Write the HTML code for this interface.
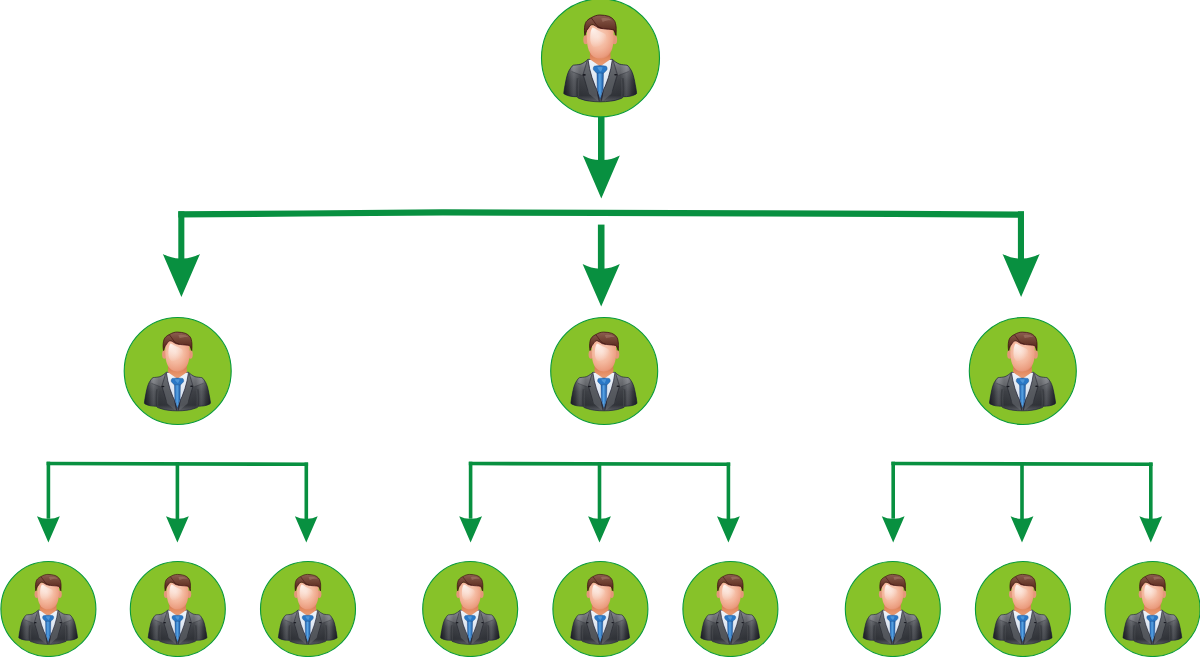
<!DOCTYPE html>
<html><head><meta charset="utf-8"><title>Org chart</title>
<style>html,body{margin:0;padding:0;background:#fff;overflow:hidden;width:1200px;height:657px}svg{display:block}</style>
</head><body>
<svg width="1200" height="657" viewBox="0 0 1200 657">

<defs>
 <linearGradient id="gSuit" x1="0" y1="0" x2="0" y2="1">
  <stop offset="0" stop-color="#8c8f95"/>
  <stop offset="0.2" stop-color="#66696f"/>
  <stop offset="0.5" stop-color="#45484e"/>
  <stop offset="0.85" stop-color="#35383e"/>
  <stop offset="1" stop-color="#5f6268"/>
 </linearGradient>
 <linearGradient id="gSuitH" x1="0" y1="0" x2="1" y2="0">
  <stop offset="0" stop-color="#000" stop-opacity="0.5"/>
  <stop offset="0.07" stop-color="#000" stop-opacity="0.15"/>
  <stop offset="0.14" stop-color="#fff" stop-opacity="0.10"/>
  <stop offset="0.22" stop-color="#000" stop-opacity="0.12"/>
  <stop offset="0.5" stop-color="#000" stop-opacity="0"/>
  <stop offset="0.78" stop-color="#000" stop-opacity="0.12"/>
  <stop offset="0.86" stop-color="#fff" stop-opacity="0.10"/>
  <stop offset="0.93" stop-color="#000" stop-opacity="0.15"/>
  <stop offset="1" stop-color="#000" stop-opacity="0.5"/>
 </linearGradient>
 <radialGradient id="gFace" cx="0.42" cy="0.35" r="0.72">
  <stop offset="0" stop-color="#f9d2c0"/>
  <stop offset="0.5" stop-color="#f4b89e"/>
  <stop offset="0.85" stop-color="#eb9c7e"/>
  <stop offset="1" stop-color="#dc8564"/>
 </radialGradient>
 <radialGradient id="gShine" cx="0.15" cy="0.1" r="0.95">
  <stop offset="0" stop-color="#fff" stop-opacity="1"/>
  <stop offset="0.3" stop-color="#fff" stop-opacity="0.7"/>
  <stop offset="0.75" stop-color="#fff" stop-opacity="0.3"/>
  <stop offset="1" stop-color="#fff" stop-opacity="0.05"/>
 </radialGradient>
 <linearGradient id="gHair" x1="0" y1="0" x2="0" y2="1">
  <stop offset="0" stop-color="#8c5e50"/>
  <stop offset="0.5" stop-color="#6e3e30"/>
  <stop offset="1" stop-color="#4c1c14"/>
 </linearGradient>
 <linearGradient id="gNeck" x1="0" y1="0" x2="0" y2="1">
  <stop offset="0" stop-color="#c96e4a"/>
  <stop offset="0.55" stop-color="#e48c62"/>
  <stop offset="1" stop-color="#e9a07a"/>
 </linearGradient>
 <linearGradient id="gTie" x1="0" y1="0" x2="1" y2="0">
  <stop offset="0" stop-color="#1d5fae"/>
  <stop offset="0.45" stop-color="#57a3e4"/>
  <stop offset="1" stop-color="#1a56a0"/>
 </linearGradient>
 <linearGradient id="gShirt" x1="0" y1="0" x2="0" y2="1">
  <stop offset="0" stop-color="#eef4fb"/>
  <stop offset="1" stop-color="#d0dae8"/>
 </linearGradient>
  <path id="suitP" d="M -12.2 1.5 C -14.2 3.2 -16.5 5.2 -19.3 6.2 C -22 7 -25 7 -26.8 7.3 C -28 7.8 -28.8 8.8 -29.4 10 C -30.6 11.5 -31.5 13.2 -32.1 14.8 C -32.8 16.5 -33.3 18.3 -33.7 20.1 C -34.3 22.5 -34.7 24.5 -35 26.5 C -35.5 29 -35.9 31 -36.1 32.9 C -36.3 34 -36.4 35 -36.4 35.5 C -36.1 36 -35.7 36.3 -35.2 36.5 C -33.5 37.4 -31.5 38 -29.8 38.3 C -27.6 38.7 -25 38.8 -23.2 38.8 L -22.3 39.9 C -21.5 40.4 -20.6 40.8 -19.7 41 C -16.5 42.2 -13.5 42.9 -10.6 43.2 C -7 43.7 -3.5 43.9 0 43.9 C 3.5 43.9 7 43.7 10.6 43.2 C 13.5 42.9 16.5 42.2 19.7 41 C 20.6 40.8 21.5 40.4 22.3 39.9 L 23.2 38.8 C 25 38.8 27.6 38.7 29.8 38.3 C 31.5 38 33.5 37.4 35.2 36.5 C 35.7 36.3 36.1 36 36.4 35.5 C 36.4 35 36.3 34 36.1 32.9 C 35.9 31 35.5 29 35 26.5 C 34.7 24.5 34.3 22.5 33.7 20.1 C 33.3 18.3 32.8 16.5 32.1 14.8 C 31.5 13.2 30.6 11.5 29.4 10 C 28.8 8.8 28 7.8 26.8 7.3 C 25 7 22 7 19.3 6.2 C 16.5 5.2 14.2 3.2 12.2 1.5 Z"/>
<g id="person">
  <!-- suit body -->
  <use href="#suitP" fill="url(#gSuit)"/>
  <use href="#suitP" fill="url(#gSuitH)"/>
  <!-- shoulder highlights -->
  <path d="M-12.5 2.5 L-19.3 6.4 C-22 7.2 -25 7.2 -26.8 7.6 C-28 8 -29 9 -29.6 10.3 L-28.5 13.6 L-18.5 17.4 L-16.3 16.8 Z" fill="#fff" opacity="0.12"/>
  <path d="M12.5 2.5 L19.3 6.4 C22 7.2 25 7.2 26.8 7.6 C28 8 29 9 29.6 10.3 L28.5 13.6 L18.5 17.4 L16.3 16.8 Z" fill="#fff" opacity="0.12"/>
  <path d="M-28.5 13.6 L-18.5 17.4" stroke="#2a2c33" stroke-width="0.8" opacity="0.5"/>
  <path d="M28.5 13.6 L18.5 17.4" stroke="#2a2c33" stroke-width="0.8" opacity="0.5"/>
  <!-- sleeve fold bands -->
  <path d="M-23.5 20 C-24.2 27 -24.3 33 -23.6 38.6 L-21.8 38.4 C-22.2 33 -22 27 -21.5 20.5 Z" fill="#1f2127" opacity="0.35"/>
  <path d="M23.5 20 C24.2 27 24.3 33 23.6 38.6 L21.8 38.4 C22.2 33 22 27 21.5 20.5 Z" fill="#1f2127" opacity="0.35"/>
  <path d="M-21.5 21 C-22 27 -22.1 33 -21.7 38.2" stroke="#a0a3a8" stroke-width="0.7" fill="none" opacity="0.18"/>
  <path d="M21.5 21 C22 27 22.1 33 21.7 38.2" stroke="#a0a3a8" stroke-width="0.7" fill="none" opacity="0.18"/>
  <!-- lapel dark outer gaps -->
  <path d="M-13 3 L-17.2 17 L-12 33" stroke="#2a2c34" stroke-width="1.2" fill="none" opacity="0.6"/>
  <path d="M13 3 L17.2 17 L12 33" stroke="#2a2c34" stroke-width="1.2" fill="none" opacity="0.6"/>
  <!-- lapels lighter band -->
  <path d="M-12.2 1.5 L-16.3 17 L-11 36 L-2 43.6 L-3.2 32 L-5.1 28.2 L-8.2 19.7 L-10.6 10.8 Z" fill="#6a6d73" opacity="0.55"/>
  <path d="M12.2 1.5 L16.3 17 L11 36 L2 43.6 L3.2 32 L5.1 28.2 L8.2 19.7 L10.6 10.8 Z" fill="#6a6d73" opacity="0.55"/>
  <!-- shirt -->
  <path d="M-12.2 1.3 C-6 2.5 6 2.5 12.2 1.3 L10.6 10.8 L8.2 19.7 L5.1 28.2 L3.2 32 L0 40 L-3.2 32 L-5.1 28.2 L-8.2 19.7 L-10.6 10.8 Z" fill="url(#gShirt)"/>
  <!-- lapel inner dark edges -->
  <path d="M-12.2 1.6 L-10.6 10.8 L-8.2 19.7 L-5.1 28.2 L-3.2 32 L-0.8 43.5" stroke="#1d1e30" stroke-width="0.75" fill="none"/>
  <path d="M12.2 1.6 L10.6 10.8 L8.2 19.7 L5.1 28.2 L3.2 32 L0.8 43.5" stroke="#1d1e30" stroke-width="0.75" fill="none"/>
  <!-- lapel notches -->
  <ellipse cx="-16" cy="17" rx="1.7" ry="0.8" fill="#17181f"/>
  <ellipse cx="15.6" cy="16.8" rx="1.7" ry="0.8" fill="#17181f"/>
  <!-- suit outline -->
  <use href="#suitP" fill="none" stroke="#17183a" stroke-width="0.7"/>
  <!-- neck -->
  <path d="M-10.2 -8 L10.2 -8 L10.4 1.4 C7 3.8 3.5 6.2 0 8.6 C-3.5 6.2 -7 3.8 -10.4 1.4 Z" fill="url(#gNeck)"/>
  <!-- tie -->
  <path d="M-3.3 14.5 L3.3 14.5 L2.9 31 L0 40.9 L-2.9 31 Z" fill="url(#gTie)" stroke="#15457e" stroke-width="0.4"/>
  <path d="M-6 8.3 C-2.5 7.5 2.5 7.5 6 8.3 C6.9 9.2 7.1 10.6 6.8 11.6 C6 13 4.5 14.5 3.3 15.2 L-3.3 15.2 C-4.5 14.5 -6 13 -6.8 11.6 C-7.1 10.6 -6.9 9.2 -6 8.3 Z" fill="#2a78c6" stroke="#15457e" stroke-width="0.4"/>
  <path d="M-3 9.5 C-1 9 1 9 2.5 9.5 C2 11 1.5 12.5 0.5 13.5 C-1 12.5 -2.2 11 -3 9.5 Z" fill="#6fb4ec" opacity="0.5"/>
  <!-- ears -->
  <ellipse cx="-14.3" cy="-18.2" rx="2.6" ry="4.6" fill="#e4967a"/>
  <ellipse cx="14.3" cy="-18.2" rx="2.6" ry="4.6" fill="#e4967a"/>
  <!-- face -->
  <path d="M-13.3 -33 C-13.6 -25 -13.5 -18 -12.8 -13 C-12.2 -9 -11 -6.5 -9 -3.5 C-6.5 -0.5 -3 0.7 0 0.7 C3 0.7 6.5 -0.5 9 -3.5 C11 -6.5 12.2 -9 12.8 -13 C13.5 -18 13.6 -25 13.3 -33 Z" fill="url(#gFace)"/>
  <path d="M-7.8 -30.4 C-9.5 -28 -10 -24 -10 -19.9 C-10 -16 -9.2 -13 -6.5 -10.9 C-3 -10.5 2 -12.5 5.5 -15.9 C7 -18 7.2 -21 5 -23.9 C2.5 -25.5 -0.5 -26.4 -3 -28 C-5 -29.2 -6.5 -30.5 -7.8 -30.4 Z" fill="url(#gShine)" opacity="0.8"/>
  <!-- hair -->
  <path d="M-15.3 -22.5 C-15.9 -25.5 -16 -29.5 -15.3 -32.8 C-14.8 -35 -14 -36.5 -13.2 -37.2 C-12 -38.5 -10.5 -39.5 -9 -40.1
     C-6 -42 -3 -42.9 -0.3 -42.9 C3 -42.9 6 -42.3 8.5 -41.6 C10.5 -40.8 12 -39.8 13.2 -38.5 C14.5 -37 15.2 -35.5 15.3 -34.4
     C15.9 -32 16.1 -29.5 16 -28.2 C16 -26 15.9 -24 15.8 -22.5 C15 -24.5 14.3 -26.5 13.5 -28 C11.5 -28.5 10 -28.6 8.3 -28.7
     C6.5 -28.8 4.5 -29 3.1 -29.2 C0.5 -29.5 -1 -30 -2 -30.2 C-3.5 -31 -4.5 -32 -5.3 -32.3 C-6.3 -33 -7.3 -33.3 -8.3 -33.3
     C-9.5 -33 -10.5 -32 -11 -31 C-12 -29.5 -13 -28 -13.5 -27.5 C-14.3 -25.5 -14.9 -24 -15.3 -22.5 Z"
     fill="url(#gHair)" stroke="#3a0c10" stroke-width="0.8"/>
  <path d="M-9 -40.1 C-7 -38 -5.5 -35 -3.5 -32.5 C-2 -31 0 -30 2 -29.4" stroke="#3e1210" stroke-width="0.9" fill="none" opacity="0.75"/>
  <path d="M1 -39.5 C5 -40.5 9 -40 12 -37.5 C8.5 -37.8 5 -37.2 2.5 -36 Z" fill="#b08474" opacity="0.45"/>
</g>
</defs>
<rect x="598" y="112" width="6.5" height="50" fill="#089040"/>
<path d="M582.80 155.50 Q592.97 160.68 601.30 160.00 Q609.62 160.68 619.80 155.50 L601.30 198.50Z" fill="#089040"/>
<path d="M178.3 211.3 L303 210.4 L443 209.3 L600 209.8 L753 210.2 L893 210.85 L1024.0 211.5 L1024.0 217.70 L893 217.05 L753 216.40 L600 216.00 L443 215.50 L303 216.60 L178.3 217.50Z" fill="#089040"/>
<rect x="178.3" y="211.3" width="6.05" height="50" fill="#089040"/>
<path d="M162.80 253.90 Q173.03 259.07 181.40 258.40 Q189.77 259.07 200.00 253.90 L181.40 296.90Z" fill="#089040"/>
<rect x="1017.9" y="211.3" width="6.1" height="50" fill="#089040"/>
<path d="M1002.50 253.90 Q1012.73 259.07 1021.10 258.40 Q1029.47 259.07 1039.70 253.90 L1021.10 296.90Z" fill="#089040"/>
<rect x="597.9" y="224.6" width="6.6" height="45" fill="#089040"/>
<path d="M582.60 264.10 Q592.83 269.28 601.20 268.60 Q609.57 269.28 619.80 264.10 L601.20 306.60Z" fill="#089040"/>
<path d="M46.60 461.7 L308.10 462.5 L308.10 466.1 L46.60 465.3Z" fill="#089040"/>
<rect x="46.60" y="461.70" width="3.6" height="57" fill="#089040"/>
<path d="M37.00 516.20 Q43.27 519.19 48.40 518.80 Q53.53 519.19 59.80 516.20 L48.40 542.40Z" fill="#089040"/>
<rect x="175.60" y="462.10" width="3.6" height="57" fill="#089040"/>
<path d="M166.00 516.20 Q172.27 519.19 177.40 518.80 Q182.53 519.19 188.80 516.20 L177.40 542.40Z" fill="#089040"/>
<rect x="304.50" y="462.50" width="3.6" height="57" fill="#089040"/>
<path d="M294.90 516.20 Q301.17 519.19 306.30 518.80 Q311.43 519.19 317.70 516.20 L306.30 542.40Z" fill="#089040"/>
<path d="M468.80 461.7 L730.20 462.5 L730.20 466.1 L468.80 465.3Z" fill="#089040"/>
<rect x="468.80" y="461.70" width="3.6" height="57" fill="#089040"/>
<path d="M459.20 516.20 Q465.47 519.19 470.60 518.80 Q475.73 519.19 482.00 516.20 L470.60 542.40Z" fill="#089040"/>
<rect x="597.70" y="462.10" width="3.6" height="57" fill="#089040"/>
<path d="M588.10 516.20 Q594.37 519.19 599.50 518.80 Q604.63 519.19 610.90 516.20 L599.50 542.40Z" fill="#089040"/>
<rect x="726.60" y="462.50" width="3.6" height="57" fill="#089040"/>
<path d="M717.00 516.20 Q723.27 519.19 728.40 518.80 Q733.53 519.19 739.80 516.20 L728.40 542.40Z" fill="#089040"/>
<path d="M891.40 461.7 L1152.60 462.5 L1152.60 466.1 L891.40 465.3Z" fill="#089040"/>
<rect x="891.40" y="461.70" width="3.6" height="57" fill="#089040"/>
<path d="M881.80 516.20 Q888.07 519.19 893.20 518.80 Q898.33 519.19 904.60 516.20 L893.20 542.40Z" fill="#089040"/>
<rect x="1020.20" y="462.10" width="3.6" height="57" fill="#089040"/>
<path d="M1010.60 516.20 Q1016.87 519.19 1022.00 518.80 Q1027.13 519.19 1033.40 516.20 L1022.00 542.40Z" fill="#089040"/>
<rect x="1149.00" y="462.50" width="3.6" height="57" fill="#089040"/>
<path d="M1139.40 516.20 Q1145.67 519.19 1150.80 518.80 Q1155.93 519.19 1162.20 516.20 L1150.80 542.40Z" fill="#089040"/>
<circle cx="600.5" cy="57.9" r="59.0" fill="#87c229" stroke="#079a3c" stroke-width="1.1"/>
<use href="#person" transform="translate(600.20 57.90) scale(1.0000)"/>
<circle cx="177.7" cy="371" r="53.5" fill="#87c229" stroke="#079a3c" stroke-width="1.1"/>
<use href="#person" transform="translate(177.43 371.00) scale(0.9076)"/>
<circle cx="604.2" cy="371" r="53.5" fill="#87c229" stroke="#079a3c" stroke-width="1.1"/>
<use href="#person" transform="translate(603.93 371.00) scale(0.9076)"/>
<circle cx="1022.8" cy="371" r="53.5" fill="#87c229" stroke="#079a3c" stroke-width="1.1"/>
<use href="#person" transform="translate(1022.53 371.00) scale(0.9076)"/>
<circle cx="48.4" cy="609" r="47.5" fill="#87c229" stroke="#079a3c" stroke-width="1.1"/>
<use href="#person" transform="translate(48.16 609.00) scale(0.8067)"/>
<circle cx="177.8" cy="609" r="47.5" fill="#87c229" stroke="#079a3c" stroke-width="1.1"/>
<use href="#person" transform="translate(177.56 609.00) scale(0.8067)"/>
<circle cx="308" cy="609" r="47.5" fill="#87c229" stroke="#079a3c" stroke-width="1.1"/>
<use href="#person" transform="translate(307.76 609.00) scale(0.8067)"/>
<circle cx="470.2" cy="609" r="47.5" fill="#87c229" stroke="#079a3c" stroke-width="1.1"/>
<use href="#person" transform="translate(469.96 609.00) scale(0.8067)"/>
<circle cx="600.4" cy="609" r="47.5" fill="#87c229" stroke="#079a3c" stroke-width="1.1"/>
<use href="#person" transform="translate(600.16 609.00) scale(0.8067)"/>
<circle cx="730.4" cy="609" r="47.5" fill="#87c229" stroke="#079a3c" stroke-width="1.1"/>
<use href="#person" transform="translate(730.16 609.00) scale(0.8067)"/>
<circle cx="892.8" cy="609" r="47.5" fill="#87c229" stroke="#079a3c" stroke-width="1.1"/>
<use href="#person" transform="translate(892.56 609.00) scale(0.8067)"/>
<circle cx="1022.9" cy="609" r="47.5" fill="#87c229" stroke="#079a3c" stroke-width="1.1"/>
<use href="#person" transform="translate(1022.66 609.00) scale(0.8067)"/>
<circle cx="1152.6" cy="609" r="47.5" fill="#87c229" stroke="#079a3c" stroke-width="1.1"/>
<use href="#person" transform="translate(1152.36 609.00) scale(0.8067)"/>
</svg>
</body></html>
